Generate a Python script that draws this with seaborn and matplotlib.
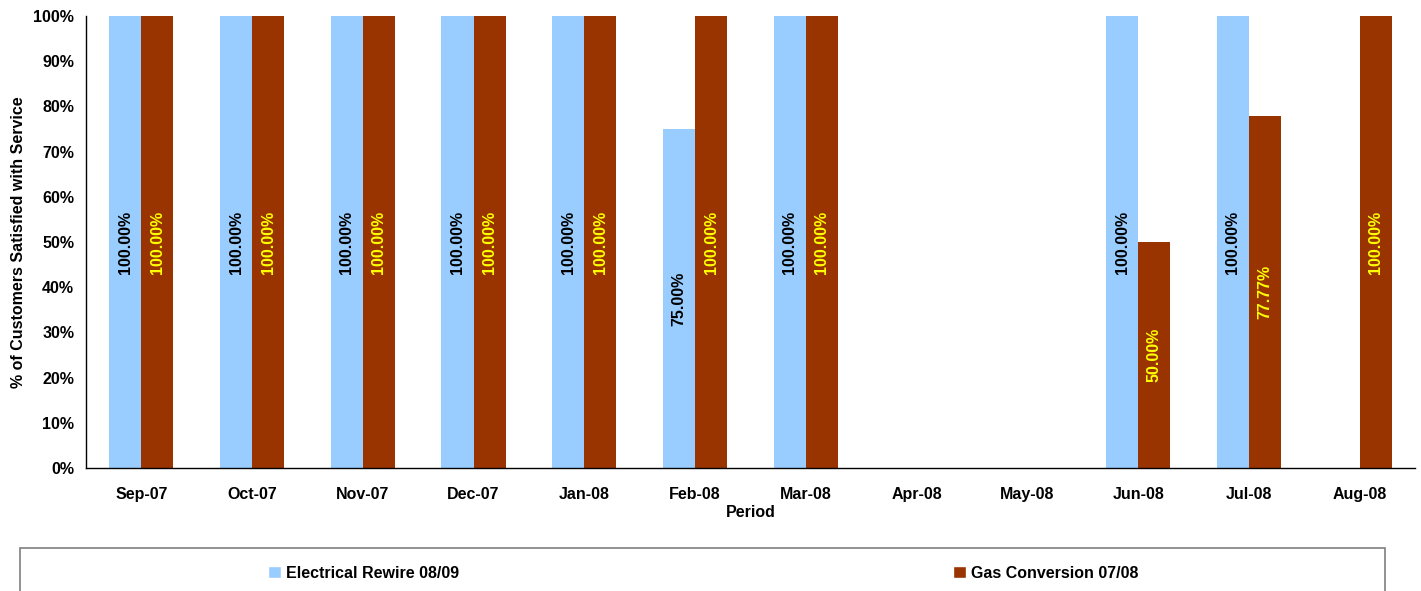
import numpy as np
import pandas as pd
import matplotlib
matplotlib.use("Agg")
import matplotlib.pyplot as plt
import seaborn as sns
from matplotlib.patches import Patch, Rectangle
from matplotlib.ticker import FixedLocator, FuncFormatter

periods = ["Sep-07", "Oct-07", "Nov-07", "Dec-07", "Jan-08", "Feb-08",
           "Mar-08", "Apr-08", "May-08", "Jun-08", "Jul-08", "Aug-08"]
electrical_rewire = [100.0, 100.0, 100.0, 100.0, 100.0, 75.0,
                     100.0, np.nan, np.nan, 100.0, 100.0, np.nan]
gas_conversion = [100.0, 100.0, 100.0, 100.0, 100.0, 100.0,
                  100.0, np.nan, np.nan, 50.0, 77.77, 100.0]
series_names = ["Electrical Rewire 08/09", "Gas Conversion 07/08"]
series_colors = ["#99CCFF", "#993300"]
label_colors = ["black", "#FFFF00"]

df = pd.DataFrame({
    "Period": periods * 2,
    "Value": electrical_rewire + gas_conversion,
    "Series": [series_names[0]] * len(periods) + [series_names[1]] * len(periods),
})

sns.set_style("white", {"text.color": "black", "axes.labelcolor": "black",
                        "xtick.color": "black", "ytick.color": "black",
                        "axes.edgecolor": "black"})
plt.rcParams["font.family"] = ["Liberation Sans", "DejaVu Sans"]

fig = plt.figure(figsize=(14.21, 5.91), dpi=100)
ax = fig.add_axes([0.0605, 0.2081, 0.9353, 0.7648])

sns.barplot(data=df, x="Period", y="Value", hue="Series", order=periods,
            hue_order=series_names, palette=series_colors, saturation=1,
            width=0.58, linewidth=0, ax=ax, legend=False)

for container, color in zip(ax.containers, label_colors):
    ax.bar_label(container, fmt="%.2f%%", label_type="center", rotation=90,
                 color=color, fontsize=11.5, fontweight="bold")

ax.set_xlim(-0.5, len(periods) - 0.5)
ax.set_ylim(0, 100)
ax.yaxis.set_major_locator(FixedLocator(np.arange(0, 101, 10)))
ax.yaxis.set_major_formatter(FuncFormatter(lambda v, p: f"{v:.0f}%"))
ax.set_xticks(range(len(periods)))
ax.set_xticklabels(periods)
ax.xaxis.set_minor_locator(FixedLocator(np.arange(-0.5, len(periods), 1.0)))
ax.tick_params(axis="x", which="major", length=0, pad=14)
ax.tick_params(axis="x", which="minor", length=6, width=1, color="black", direction="out")
ax.tick_params(axis="y", which="major", length=5, width=1, color="black", direction="out")
for lbl in ax.get_xticklabels() + ax.get_yticklabels():
    lbl.set_fontsize(11.5)
    lbl.set_fontweight("bold")
    lbl.set_color("black")

for side in ["top", "right"]:
    ax.spines[side].set_visible(False)
for side in ["left", "bottom"]:
    ax.spines[side].set_color("black")
    ax.spines[side].set_linewidth(1)

ax.set_xlabel("Period", fontsize=11.5, fontweight="bold", labelpad=2, color="black")
ax.set_ylabel("% of Customers Satisfied with Service", fontsize=11.5,
              fontweight="bold", labelpad=5, color="black")

# legend frame along the bottom of the figure
fig.patches.append(Rectangle((20 / 1421, -0.05), 1365 / 1421, 0.05 + (591 - 548) / 591,
                             transform=fig.transFigure, fill=False,
                             edgecolor="#7f7f7f", linewidth=1.2))

for name, color, x0 in zip(series_names, series_colors, [262 / 1421, 947 / 1421]):
    fig.legend(handles=[Patch(facecolor=color, label=name)], loc="center left",
               bbox_to_anchor=(x0, (591 - 573) / 591), frameon=False,
               prop={"weight": "bold", "size": 11.5}, handlelength=0.8,
               handleheight=0.8, handletextpad=0.3, borderaxespad=0,
               labelcolor="black")

fig.savefig("out.png", dpi=100)
